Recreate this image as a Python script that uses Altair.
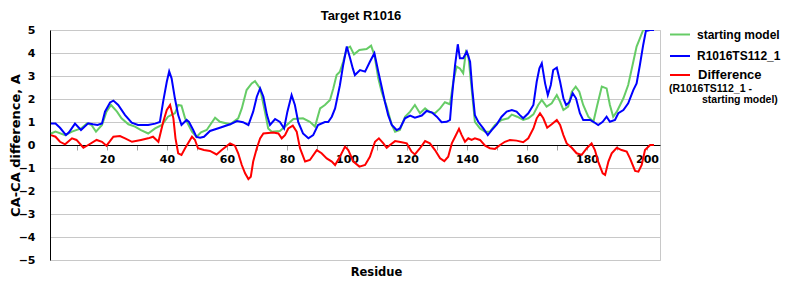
import altair as alt
import pandas as pd

# ---- data ----
green_res = [2, 3.5, 6.7, 9, 12, 14, 15.5, 17, 19, 20.5, 22, 24, 25.5, 27.8, 30, 32, 34.4, 36.7, 39, 41,
             43.3, 44.4, 45.5, 46.7, 49, 50.5, 52, 53.9, 56.7, 58.3, 61.7, 64.4, 65.6, 67.2, 68.9, 70,
             71.7, 73.3, 74.4, 75.6, 78.3, 80.6, 82.8, 86, 88.3, 90, 91.7, 93.3, 95, 96.1, 97.2, 98.3,
             99.4, 100.6, 101.7, 103, 104.8, 107.2, 108.7, 109.8, 111.1, 112.2, 113.9, 115.6, 116.7,
             118.3, 120, 121.7, 123.3, 125, 126.7, 128.3, 130, 131.7, 133.3, 135, 136.1, 137.2, 138.3,
             139.4, 140.3, 141.1, 142.2, 143.3, 145, 146.7, 148.3, 150, 152.2, 154.4, 155.6, 157.4,
             159.4, 161.1, 162.8, 164.4, 165.6, 167.2, 168.9, 170.6, 171.7, 172.8, 174.4, 175.6, 176.9,
             178.1, 179.4, 181.1, 182.8, 184.1, 185.6, 187.2, 188.3, 189.4, 190.6, 192.8, 194.4, 196.1,
             197.2, 198.3, 199.4, 203]
green_val = [0.5, 0.58, 0.43, 0.58, 0.72, 0.94, 0.87, 0.58, 0.87, 1.45, 1.74, 1.45, 1.16, 0.9, 0.8, 0.65,
             0.5, 0.72, 0.87, 1.23, 1.38, 1.74, 1.71, 1.16, 0.58, 0.35, 0.55, 0.65, 1.19, 1.01, 0.9, 1.16,
             1.59, 2.39, 2.68, 2.78, 2.46, 1.45, 0.72, 0.58, 0.61, 0.87, 1.13, 1.16, 1.01, 0.8, 1.59, 1.74,
             1.96, 2.46, 3.04, 3.19, 3.62, 4.2, 4.28, 3.94, 4.13, 4.17, 4.32, 3.91, 2.9, 2.32, 1.67, 0.87,
             0.58, 0.65, 1.23, 1.45, 1.74, 1.38, 1.59, 1.42, 1.38, 1.59, 1.86, 1.77, 2.75, 3.41, 3.33,
             3.12, 4.06, 3.91, 2.46, 1.01, 0.72, 0.58, 0.58, 0.87, 1.09, 1.16, 1.32, 1.23, 1.09, 1.16,
             1.33, 1.74, 1.96, 1.67, 1.81, 2.17, 1.88, 1.52, 1.67, 2.32, 2.54, 2.32, 1.74, 1.23, 1.01,
             1.74, 2.54, 2.46, 1.74, 1.23, 1.45, 2.03, 2.61, 3.62, 4.28, 4.64, 5.0, 5.0]

blue_res = [2, 3.5, 5, 7, 8, 10, 12, 14.4, 16, 17.5, 19, 20, 21.7, 22.8, 24.4, 26.7, 28.9, 31, 34.4, 36.7,
            38.3, 39.4, 40.6, 41.4, 42.2, 43.3, 44.4, 45.5, 47.2, 48, 49.4, 50.5, 51.7, 53, 55, 58.3,
            61.7, 64, 66, 67.8, 69.4, 70.6, 71.7, 72.8, 74, 75, 76.7, 78.3, 79.7, 80.8, 82.2, 83.3, 84.4,
            86, 87.8, 89.4, 91, 93.3, 94.4, 95.6, 96.7, 98.3, 99.4, 100.6, 101.7, 102.6, 103.3, 105,
            106.7, 108.3, 109.8, 111.1, 112.2, 113.3, 114.4, 115.6, 117.2, 118.3, 120, 121.7, 123.3,
            125.6, 127.2, 128.9, 130.6, 132.2, 133.9, 135, 135.6, 136.7, 137.6, 138.3, 139.4, 140.6,
            141.7, 142.4, 143.3, 144.4, 146.1, 147.6, 148.9, 150.6, 152.2, 153.9, 155.6, 157.2, 158.3,
            159.4, 161.1, 162.8, 163.9, 164.8, 165.6, 166.7, 167.6, 168.6, 169.4, 170.6, 171.7, 172.8,
            173.7, 174.8, 175.9, 177, 178.3, 179.4, 181.7, 182.8, 184.4, 185.9, 187.2, 188.3, 190,
            191.1, 192.8, 194.4, 196.1, 197.2, 198.3, 199.4, 200.3, 201.7, 203]
blue_val = [0.93, 0.93, 0.75, 0.43, 0.55, 0.93, 0.65, 0.94, 0.9, 0.87, 0.94, 1.45, 1.85, 1.93, 1.74, 1.3,
            0.97, 0.87, 0.87, 0.93, 1.0, 1.9, 2.75, 3.2, 2.9, 2.03, 1.3, 0.87, 1.09, 1.0, 0.65, 0.35,
            0.32, 0.36, 0.61, 0.75, 0.9, 1.04, 0.99, 0.87, 1.45, 2.1, 2.46, 2.1, 1.3, 0.87, 1.13, 1.0,
            0.72, 1.45, 2.17, 1.74, 1.0, 0.5, 0.29, 0.43, 0.87, 1.0, 1.0, 1.23, 1.59, 2.6, 3.48, 4.28,
            3.77, 3.33, 3.04, 3.26, 3.19, 3.62, 3.99, 3.19, 2.54, 1.88, 1.3, 0.87, 0.65, 0.72, 1.16,
            1.28, 1.19, 1.28, 1.48, 1.42, 1.23, 0.99, 1.01, 1.09, 2.03, 3.48, 4.38, 3.77, 3.77, 4.06,
            3.62, 2.46, 1.3, 1.01, 0.72, 0.43, 0.65, 0.9, 1.23, 1.45, 1.52, 1.45, 1.3, 1.16, 1.38, 1.74,
            2.75, 3.33, 3.55, 2.68, 2.17, 2.61, 3.26, 3.36, 2.75, 2.03, 1.74, 1.86, 2.25, 2.03, 1.38,
            1.09, 1.09, 1.01, 0.87, 1.01, 1.23, 1.01, 1.09, 1.38, 1.52, 1.81, 2.39, 2.68, 3.48, 4.35,
            4.96, 5.0, 5.0]

red_res = [2, 3.5, 5, 6.7, 9, 10.5, 12.8, 14.4, 17.2, 19, 20.5, 22.8, 25, 26.7, 29, 32, 34.4, 36, 37.8,
           39.4, 40.6, 41.7, 42.8, 43.5, 44.4, 45.5, 46.7, 49, 50, 51, 53, 55, 57.2, 58.9, 61.7, 63.3,
           64.4, 65.6, 66.7, 67.8, 68.6, 69.4, 70.6, 71.7, 72.8, 76.1, 77.8, 78.9, 80, 81.1, 82.6, 83.9,
           85, 86.7, 88.3, 90.6, 92.2, 93.9, 95.6, 96.7, 98.3, 100, 101.1, 102.8, 104.8, 106.7, 108.3,
           110, 111.3, 112.8, 113.9, 115, 116.7, 118.9, 120.6, 122.2, 123.3, 125, 126.7, 128.3, 130,
           131.7, 133.1, 134.4, 135.6, 136.7, 138, 138.9, 140, 141.1, 142.2, 143.3, 145, 146.7, 148.3,
           150, 151.7, 153.3, 155, 157.2, 159.4, 161.1, 162.8, 163.9, 165, 166.1, 167.4, 168.9, 170.6,
           171.7, 172.8, 173.9, 175.6, 177.2, 178.9, 180.6, 182.2, 183.3, 184.4, 185.9, 186.7, 187.8,
           188.9, 190.6, 192.2, 193.9, 195, 196.7, 197.8, 198.9, 200, 201.7, 203]
red_val = [0.43, 0.36, 0.14, 0.03, 0.29, 0.22, -0.12, 0.0, 0.22, 0.14, -0.03, 0.36, 0.39, 0.29, 0.14,
           0.22, 0.29, 0.36, 0.14, 1.0, 1.52, 1.74, 1.16, 0.29, -0.36, -0.43, -0.14, 0.36, 0.22, -0.14,
           -0.22, -0.26, -0.41, -0.22, 0.07, -0.03, -0.36, -0.87, -1.23, -1.48, -1.38, -0.72, -0.14,
           0.29, 0.5, 0.54, 0.5, 0.29, 0.43, 0.72, 0.84, 0.58, -0.14, -0.72, -0.65, -0.22, -0.36, -0.58,
           -0.72, -0.87, -0.51, -0.07, -0.22, -0.72, -0.94, -0.87, -0.51, 0.14, 0.29, 0.07, -0.12, 0.0,
           0.17, 0.12, 0.07, -0.29, -0.41, -0.14, 0.17, 0.07, -0.22, -0.58, -0.7, -0.51, 0.07, 0.36,
           0.7, 0.43, 0.14, 0.29, 0.22, 0.29, 0.22, -0.03, -0.14, -0.17, 0.0, 0.14, 0.22, 0.19, 0.12,
           0.29, 0.72, 1.16, 1.38, 1.16, 0.75, 0.9, 1.09, 0.87, 0.43, 0.07, -0.12, -0.36, -0.43, -0.14,
           0.07, -0.22, -0.72, -1.23, -1.3, -0.72, -0.36, -0.12, -0.22, -0.29, -0.58, -1.13, -1.16,
           -0.87, -0.22, 0.0, 0.0]

series_names = ["starting model", "R1016TS112_1", "Difference"]
series_colors = ["#66cc66", "#0000ff", "#ff0000"]
y_ticks = [-5, -4, -3, -2, -1, 0, 1, 2, 3, 4, 5]
x_ticks = [10.67 + 10 * k for k in range(20)]

df_green = pd.DataFrame({"Residue": green_res, "value": green_val, "series": series_names[0]})
df_blue = pd.DataFrame({"Residue": blue_res, "value": blue_val, "series": series_names[1]})
df_red = pd.DataFrame({"Residue": red_res, "value": red_val, "series": series_names[2]})

x_scale = alt.Scale(domain=[1.67, 205], nice=False, zero=False)
y_scale = alt.Scale(domain=[-5, 5], nice=False, zero=False)
color_scale = alt.Scale(domain=series_names, range=series_colors)

x_axis = alt.Axis(
    values=x_ticks,
    labelExpr="floor(datum.value) % 20 == 0 ? '' + floor(datum.value) : ''",
    offset=-115, grid=False,
    domainColor="black", domainWidth=1,
    tickColor="#a0a0a0", tickSize=5, tickWidth=1,
    labelFont="DejaVu Sans", labelFontWeight="bold", labelFontSize=11, labelColor="black",
    labelPadding=3, labelFlush=False, labelOverlap=False,
    title="Residue", titleFont="DejaVu Sans", titleFontWeight="bold", titleFontSize=11.5,
    titleColor="black", titleX=326, titleY=130, titleAlign="center", titleBaseline="alphabetic",
)
y_axis = alt.Axis(
    values=y_ticks, grid=True, gridColor="#c8c8c8", gridWidth=1,
    domainColor="black", domainWidth=1, ticks=False,
    labelFont="DejaVu Sans", labelFontWeight="bold", labelFontSize=11, labelColor="black",
    labelPadding=15, labelFlush=False,
    title="CA-CA difference, A", titleFont="DejaVu Sans", titleFontWeight="bold", titleFontSize=13,
    titleColor="black", titleX=-35, titleY=115, titleAngle=-90, titleAlign="center",
    titleBaseline="middle",
)


def line_layer(df):
    return alt.Chart(df).mark_line(strokeWidth=2, clip=True).encode(
        x=alt.X("Residue:Q", scale=x_scale, axis=x_axis),
        y=alt.Y("value:Q", scale=y_scale, axis=y_axis),
        color=alt.Color("series:N", scale=color_scale, legend=None),
    )


one = pd.DataFrame({"k": [0]})


def txt(text, x, y, size, align="left", font="Liberation Sans"):
    return alt.Chart(one).mark_text(
        text=text, font=font, fontSize=size, fontWeight="bold", color="black",
        align=align, baseline="alphabetic",
    ).encode(x=alt.value(x), y=alt.value(y))


def swatch(color, y):
    return alt.Chart(one).mark_rule(color=color, strokeWidth=2).encode(
        x=alt.value(620), x2=alt.value(640), y=alt.value(y)
    )


chart = alt.layer(
    line_layer(df_green),
    line_layer(df_blue),
    line_layer(df_red),
    txt("Target R1016", 311, -10, 13, align="center"),
    swatch(series_colors[0], 4.5),
    swatch(series_colors[1], 26),
    swatch(series_colors[2], 45),
    txt("starting model", 647, 9, 12),
    txt("R1016TS112_1", 647, 30, 12),
    txt("Difference", 648, 49, 13),
    txt("(R1016TS112_1 -", 619, 61.5, 10.5),
    txt("starting model)", 652, 73, 10.5),
).properties(
    width=610, height=230,
    autosize=alt.AutoSizeParams(type="none"),
    padding={"left": 50, "top": 30, "right": 140, "bottom": 40},
    background="white",
).configure_view(stroke="#c8c8c8", strokeWidth=1)

chart.save("out.html", embed_options={"renderer": "svg", "actions": False})
